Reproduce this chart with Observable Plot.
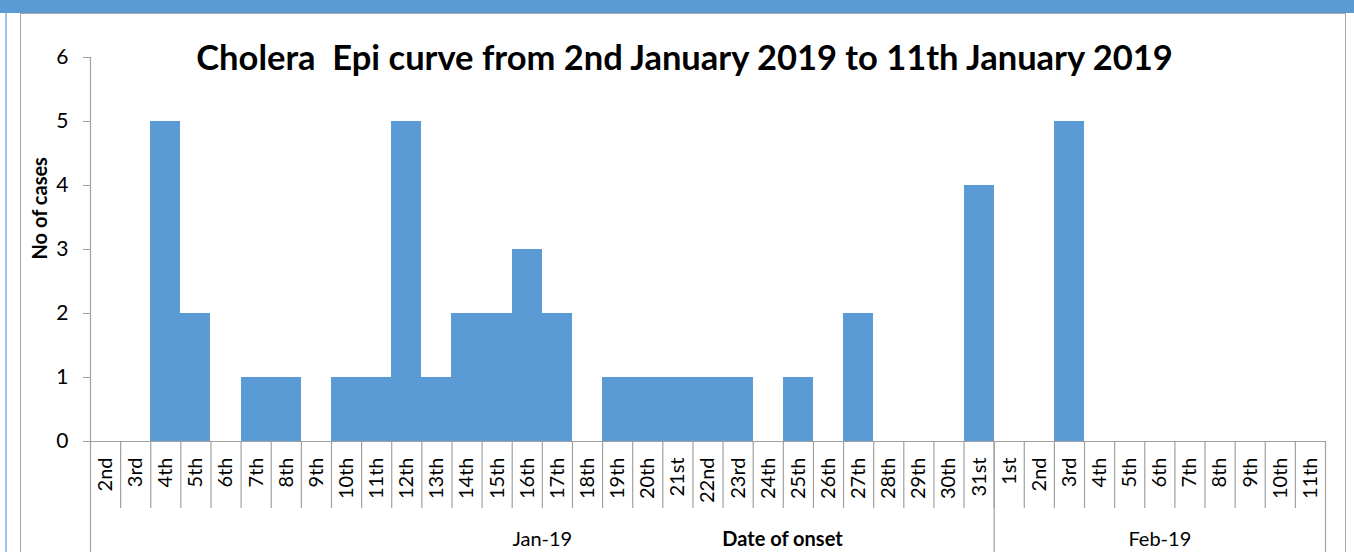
<!DOCTYPE html>
<html>
<head>
<meta charset="utf-8">
<script src="https://cdn.jsdelivr.net/npm/d3@7"></script>
<script src="https://cdn.jsdelivr.net/npm/@observablehq/plot@0.6"></script>
<style>
  html, body { margin: 0; padding: 0; background: #fff; }
  #wrap { position: relative; width: 1354px; height: 552px; overflow: hidden; font-family: Lato, "Open Sans", sans-serif; }
  #chart { position: absolute; left: 0; top: 0; }
  .band { position: absolute; left: 0; top: 0; width: 1354px; height: 13px; background: #5B9BD5; z-index: 3; }
  .lline { position: absolute; left: 5px; top: 13px; width: 2px; height: 539px; background: #9DC3E6; z-index: 3; }
  .border { position: absolute; left: 20px; top: 13px; width: 1326px; height: 560px; border: 1px solid #a6a6a6; box-sizing: border-box; z-index: 2; pointer-events: none; }
</style>
</head>
<body>
<div id="wrap">
  <div class="band"></div>
  <div class="lline"></div>
  <div class="border"></div>
  <div id="chart"></div>
</div>
<script>
const title = "Cholera  Epi curve from 2nd January 2019 to 11th January 2019";
const yTitle = "No of cases";
const xTitle = "Date of onset";
const months = ["Jan-19", "Feb-19"];
const janDays = ["2nd","3rd","4th","5th","6th","7th","8th","9th","10th","11th","12th","13th","14th","15th","16th","17th","18th","19th","20th","21st","22nd","23rd","24th","25th","26th","27th","28th","29th","30th","31st"];
const janCases = [0,0,5,2,0,1,1,0,1,1,5,1,2,2,3,2,0,1,1,1,1,1,0,1,0,2,0,0,0,4];
const febDays = ["1st","2nd","3rd","4th","5th","6th","7th","8th","9th","10th","11th"];
const febCases = [0,0,5,0,0,0,0,0,0,0,0];
const yTicks = [0,1,2,3,4,5,6];

const groups = [
  {month: months[0], days: janDays, cases: janCases},
  {month: months[1], days: febDays, cases: febCases}
];
const rows = groups.flatMap(g => g.days.map((d, i) => ({key: g.month + "|" + d, day: d, month: g.month, value: g.cases[i]})));
const keys = rows.map(r => r.key);

const W = 1354, H = 552, ML = 90, MR = 29, MT = 57, MB = 111;
const bw = (W - ML - MR) / keys.length;
const plotH = H - MT - MB;
const gray = "#a0a0a0";
const blue = "#5B9BD5";

const monthMarks = groups.map(g => {
  const n = g.days.length;
  const mid = g.month + "|" + g.days[Math.floor(n / 2)];
  return Plot.text([{key: mid, label: g.month}], {x: "key", text: "label", dx: n % 2 === 0 ? -bw / 2 : 0,
    frameAnchor: "bottom", lineAnchor: "middle", dy: 98, fontSize: 20, fill: "#000"});
});

const chart = Plot.plot({
  width: W, height: H,
  marginLeft: ML, marginRight: MR, marginTop: MT, marginBottom: MB,
  style: {background: "transparent", fontFamily: "Lato, 'Open Sans', sans-serif", color: "#000", overflow: "visible"},
  x: {type: "band", domain: keys, padding: 0, round: false, axis: null},
  y: {domain: [0, 6], axis: null},
  marks: [
    Plot.barY(rows, {x: "key", y: "value", fill: blue, shapeRendering: "crispEdges"}),
    Plot.ruleY([0], {stroke: gray, strokeWidth: 1.2}),
    // y axis line
    Plot.ruleX([keys[0]], {dx: -bw / 2, insetBottom: -MB, stroke: gray, strokeWidth: 1.2}),
    // category separators
    Plot.ruleX(keys.slice(1), {dx: -bw / 2, insetTop: plotH, insetBottom: -67, stroke: gray, strokeWidth: 1.2}),
    // month separators
    Plot.ruleX(groups.slice(1).map(g => g.month + "|" + g.days[0]), {dx: -bw / 2, insetTop: plotH, insetBottom: -MB, stroke: gray, strokeWidth: 1.2}),
    Plot.ruleX([keys[keys.length - 1]], {dx: bw / 2, insetTop: plotH, insetBottom: -MB, stroke: gray, strokeWidth: 1.2}),
    Plot.axisY({ticks: yTicks, tickFormat: d => String(d), tickSize: 7, tickPadding: 15, fontSize: 21, label: null, stroke: gray, fill: "#000"}),
    Plot.axisX({tickSize: 0, tickPadding: 16, tickRotate: -90, fontSize: 20, label: null, fill: "#000",
      tickFormat: k => k.split("|")[1]}),
    ...monthMarks,
    Plot.text([xTitle], {frameAnchor: "bottom-left", lineAnchor: "middle", dx: 692, dy: 98, textAnchor: "middle", fontSize: 20, fontWeight: "bold", fill: "#000"}),
    Plot.text([yTitle], {frameAnchor: "left", dx: -50, dy: 10, rotate: -90, fontSize: 20, fontWeight: "bold", fill: "#000"}),
    Plot.text([title], {frameAnchor: "top-left", lineAnchor: "middle", dx: 594, dy: 1, textAnchor: "middle", fontSize: 34.5, fontWeight: "bold", fill: "#000"})
  ]
});
document.getElementById("chart").appendChild(chart);
</script>
</body>
</html>
